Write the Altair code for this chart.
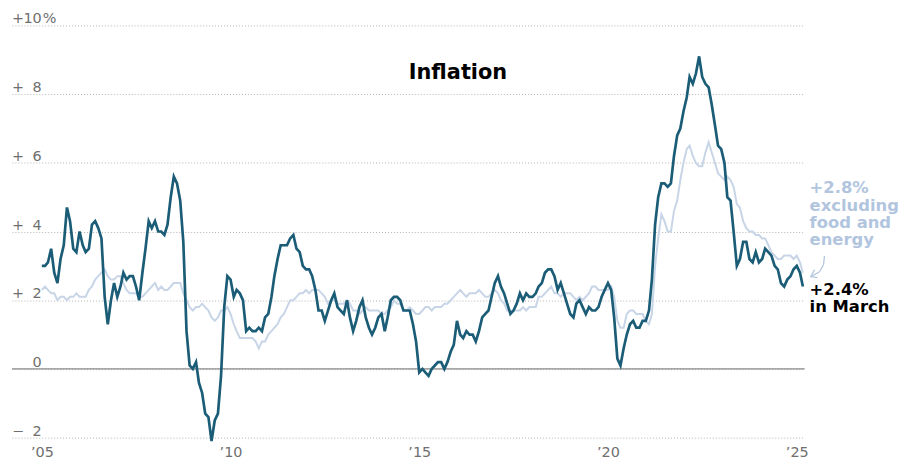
import altair as alt
import pandas as pd

# Year-over-year % change in consumer prices, monthly, Jan 2005 - Mar 2025
headline = [
    3.0, 3.0, 3.1, 3.5, 2.8, 2.5, 3.2, 3.6, 4.7, 4.3, 3.5, 3.4,   # 2005
    4.0, 3.6, 3.4, 3.5, 4.2, 4.3, 4.1, 3.8, 2.1, 1.3, 2.0, 2.5,   # 2006
    2.1, 2.4, 2.8, 2.6, 2.7, 2.7, 2.4, 2.0, 2.8, 3.5, 4.3, 4.1,   # 2007
    4.3, 4.0, 4.0, 3.9, 4.2, 5.0, 5.6, 5.4, 4.9, 3.7, 1.1, 0.1,   # 2008
    0.0, 0.2, -0.4, -0.7, -1.3, -1.4, -2.1, -1.5, -1.3, -0.2, 1.8, 2.7,  # 2009
    2.6, 2.1, 2.3, 2.2, 2.0, 1.1, 1.2, 1.1, 1.1, 1.2, 1.1, 1.5,   # 2010
    1.6, 2.1, 2.7, 3.2, 3.6, 3.6, 3.6, 3.8, 3.9, 3.5, 3.4, 3.0,   # 2011
    2.9, 2.9, 2.7, 2.3, 1.7, 1.7, 1.4, 1.7, 2.0, 2.2, 1.8, 1.7,   # 2012
    1.6, 2.0, 1.5, 1.1, 1.4, 1.8, 2.0, 1.5, 1.2, 1.0, 1.2, 1.5,   # 2013
    1.6, 1.1, 1.5, 2.0, 2.1, 2.1, 2.0, 1.7, 1.7, 1.7, 1.3, 0.8,   # 2014
    -0.1, 0.0, -0.1, -0.2, 0.0, 0.1, 0.2, 0.2, 0.0, 0.2, 0.5, 0.7,  # 2015
    1.4, 1.0, 0.9, 1.1, 1.0, 1.0, 0.8, 1.1, 1.5, 1.6, 1.7, 2.1,   # 2016
    2.5, 2.7, 2.4, 2.2, 1.9, 1.6, 1.7, 1.9, 2.2, 2.0, 2.2, 2.1,   # 2017
    2.1, 2.2, 2.4, 2.5, 2.8, 2.9, 2.9, 2.7, 2.3, 2.5, 2.2, 1.9,   # 2018
    1.6, 1.5, 1.9, 2.0, 1.8, 1.6, 1.8, 1.7, 1.7, 1.8, 2.1, 2.3,   # 2019
    2.5, 2.3, 1.5, 0.3, 0.1, 0.6, 1.0, 1.3, 1.4, 1.2, 1.2, 1.4,   # 2020
    1.4, 1.7, 2.6, 4.2, 5.0, 5.4, 5.4, 5.3, 5.4, 6.2, 6.8, 7.0,   # 2021
    7.5, 7.9, 8.5, 8.3, 8.6, 9.1, 8.5, 8.3, 8.2, 7.7, 7.1, 6.5,   # 2022
    6.4, 6.0, 5.0, 4.9, 4.0, 3.0, 3.2, 3.7, 3.7, 3.2, 3.1, 3.4,   # 2023
    3.1, 3.2, 3.5, 3.4, 3.3, 3.0, 2.9, 2.5, 2.4, 2.6, 2.7, 2.9,   # 2024
    3.0, 2.8, 2.4,                                                 # 2025
]

core = [
    2.3, 2.4, 2.3, 2.2, 2.2, 2.0, 2.1, 2.1, 2.0, 2.1, 2.1, 2.2,   # 2005
    2.1, 2.1, 2.1, 2.3, 2.4, 2.6, 2.7, 2.8, 2.9, 2.7, 2.6, 2.6,   # 2006
    2.7, 2.7, 2.5, 2.3, 2.2, 2.2, 2.2, 2.1, 2.1, 2.2, 2.3, 2.4,   # 2007
    2.5, 2.3, 2.4, 2.3, 2.3, 2.4, 2.5, 2.5, 2.5, 2.2, 2.0, 1.8,   # 2008
    1.7, 1.8, 1.8, 1.9, 1.8, 1.7, 1.5, 1.4, 1.5, 1.7, 1.7, 1.8,   # 2009
    1.6, 1.3, 1.1, 0.9, 0.9, 0.9, 0.9, 0.9, 0.8, 0.6, 0.8, 0.8,   # 2010
    1.0, 1.1, 1.2, 1.3, 1.5, 1.6, 1.8, 2.0, 2.0, 2.1, 2.2, 2.2,   # 2011
    2.3, 2.2, 2.3, 2.3, 2.3, 2.2, 2.1, 1.9, 2.0, 2.0, 1.9, 1.9,   # 2012
    1.9, 2.0, 1.9, 1.7, 1.7, 1.6, 1.7, 1.8, 1.7, 1.7, 1.7, 1.7,   # 2013
    1.6, 1.6, 1.7, 1.8, 2.0, 1.9, 1.9, 1.7, 1.7, 1.8, 1.7, 1.6,   # 2014
    1.6, 1.7, 1.8, 1.8, 1.7, 1.8, 1.8, 1.8, 1.9, 1.9, 2.0, 2.1,   # 2015
    2.2, 2.3, 2.2, 2.1, 2.2, 2.2, 2.2, 2.3, 2.2, 2.1, 2.1, 2.2,   # 2016
    2.3, 2.2, 2.0, 1.9, 1.7, 1.7, 1.7, 1.7, 1.7, 1.8, 1.7, 1.8,   # 2017
    1.8, 1.8, 2.1, 2.1, 2.2, 2.3, 2.4, 2.2, 2.2, 2.1, 2.2, 2.2,   # 2018
    2.2, 2.1, 2.0, 2.1, 2.0, 2.1, 2.2, 2.4, 2.4, 2.3, 2.3, 2.3,   # 2019
    2.3, 2.4, 2.1, 1.4, 1.2, 1.2, 1.6, 1.7, 1.7, 1.6, 1.6, 1.6,   # 2020
    1.4, 1.3, 1.6, 3.0, 3.8, 4.5, 4.3, 4.0, 4.0, 4.6, 4.9, 5.5,   # 2021
    6.0, 6.4, 6.5, 6.2, 6.0, 5.9, 5.9, 6.3, 6.6, 6.3, 6.0, 5.7,   # 2022
    5.6, 5.5, 5.6, 5.5, 5.3, 4.8, 4.7, 4.3, 4.1, 4.0, 4.0, 3.9,   # 2023
    3.9, 3.8, 3.8, 3.6, 3.4, 3.3, 3.2, 3.2, 3.3, 3.3, 3.3, 3.2,   # 2024
    3.3, 3.1, 2.8,                                                 # 2025
]

y_ticks = [-2, 0, 2, 4, 6, 8, 10]
y_signs = ["\u2212", "", "+", "+", "+", "+", "+"]
y_numbers = ["2", "0", "2", "4", "6", "8", "10"]
y_suffix = ["", "", "", "", "", "", "%"]
x_tick_years = [2005, 2010, 2015, 2020, 2025]

dates = pd.date_range("2005-01-01", periods=len(headline), freq="MS")
df = pd.DataFrame({"date": dates, "headline": headline, "core": core})
ticks_df = pd.DataFrame(
    {"v": y_ticks, "sign": y_signs, "num": y_numbers, "suffix": y_suffix}
)

DARK = "#1b5c77"
LIGHT = "#c7d5e7"
LIGHT_TXT = "#b2c5de"
GRAY = "#6f6f6f"
FONT = "DejaVu Sans"

x_scale = alt.Scale(
    domain=[alt.DateTime(year=2004, month=3, date=18),
            alt.DateTime(year=2025, month=3, date=18)],
    nice=False,
)
y_scale = alt.Scale(domain=[-2.058, 10.405], nice=False, zero=False)

x_enc = alt.X(
    "date:T",
    scale=x_scale,
    title=None,
    axis=alt.Axis(
        values=[alt.DateTime(year=y, month=1, date=1) for y in x_tick_years],
        labelExpr="'\u2019' + timeFormat(datum.value, '%y')",
        grid=False, ticks=False, domain=False,
        labelFont=FONT, labelFontSize=14.5, labelColor=GRAY,
        labelBaseline="alphabetic", labelPadding=17,
        labelFlush=False, labelOverlap=False,
    ),
)


def y_enc(field):
    return alt.Y(
        field,
        type="quantitative",
        scale=y_scale,
        title=None,
        axis=alt.Axis(
            values=y_ticks, labels=False,
            grid=True, gridColor="#b3b3b3", gridDash=[1, 2], gridWidth=1,
            ticks=False, domain=False,
        ),
    )


core_line = alt.Chart(df).mark_line(color=LIGHT, strokeWidth=2).encode(
    x=x_enc, y=y_enc("core")
)
head_line = alt.Chart(df).mark_line(color=DARK, strokeWidth=2.7).encode(
    x=x_enc, y=y_enc("headline")
)

zero_rule = alt.Chart(pd.DataFrame({"zero": [0]})).mark_rule(
    color="#8a8a8a", strokeWidth=1.2
).encode(y=y_enc("zero"))

# y-axis labels drawn as text through the y scale
lab_style = dict(font=FONT, fontSize=14.5, color=GRAY, baseline="alphabetic", dy=-2)
sign_lab = alt.Chart(ticks_df).mark_text(align="left", **lab_style).encode(
    y=y_enc("v"), x=alt.value(0), text="sign:N"
)
num_lab = alt.Chart(ticks_df).mark_text(align="right", **lab_style).encode(
    y=y_enc("v"), x=alt.value(30), text="num:N"
)
suf_lab = alt.Chart(ticks_df).mark_text(align="left", dx=1, **lab_style).encode(
    y=y_enc("v"), x=alt.value(30), text="suffix:N"
)

one = pd.DataFrame({"a": [0]})

title_txt = alt.Chart(one).mark_text(
    text="Inflation", font=FONT, fontSize=21, fontWeight="bold",
    color="#000000", align="center", baseline="alphabetic",
).encode(x=alt.value(449), y=alt.value(68))

core_note = alt.Chart(one).mark_text(
    text=["+2.8%", "excluding", "food and", "energy"],
    font=FONT, fontSize=16.5, fontWeight="bold", color=LIGHT_TXT,
    align="left", baseline="alphabetic", lineHeight=17.4,
).encode(x=alt.value(803), y=alt.value(183))

head_note = alt.Chart(one).mark_text(
    text=["+2.4%", "in March"],
    font=FONT, fontSize=16.5, fontWeight="bold", color="#000000",
    align="left", baseline="alphabetic", lineHeight=17.4,
).encode(x=alt.value(803), y=alt.value(285))

# small curved arrow from the core label to the end of the core line
arrow_segments = [
    ((818, 246), (817, 255)),
    ((817, 255), (813, 262)),
    ((813, 262), (804, 267)),
    ((804, 267), (808, 260)),
    ((804, 267), (811, 268)),
]
arrow_layers = [
    alt.Chart(one).mark_rule(color=LIGHT_TXT, strokeWidth=1.3).encode(
        x=alt.value(a[0]), y=alt.value(a[1]), x2=alt.value(b[0]), y2=alt.value(b[1])
    )
    for a, b in arrow_segments
]

chart = alt.layer(
    core_line, zero_rule, head_line, sign_lab, num_lab, suf_lab,
    title_txt, core_note, head_note, *arrow_layers
).properties(
    width=798,
    height=431,
    autosize="none",
    padding={"left": 4, "top": 2, "right": 94, "bottom": 22},
    background="white",
).configure_view(stroke=None)

chart.save("out.html", embed_options={"renderer": "svg", "actions": False})
